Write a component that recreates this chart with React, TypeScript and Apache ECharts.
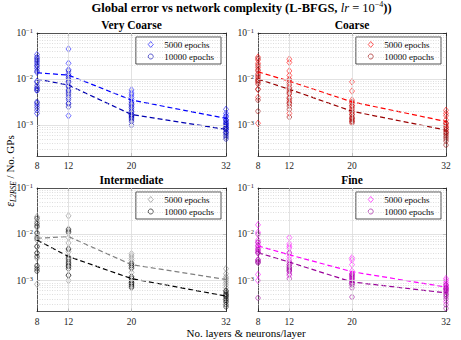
import React, { useEffect, useRef } from 'react';
import * as echarts from 'echarts';

// ---------- data ----------
const layerCounts = [8, 12, 20, 32];
const yTickExps = [-3, -2, -1];
const yMinLog = -3.67;
const yMaxLog = -1;

// Very Coarse (values per layer count 8, 12, 20, 32)
const vc5000 = [
  [0.034, 0.028, 0.024, 0.020, 0.017, 0.014, 0.0090, 0.0065, 0.0058, 0.0030, 0.0024, 0.0018],
  [0.045, 0.022, 0.016, 0.013, 0.011, 0.0090, 0.0072, 0.0055, 0.0040, 0.0030, 0.0016],
  [0.0058, 0.0050, 0.0045, 0.0040, 0.0036, 0.0032, 0.0028, 0.0024, 0.0020, 0.0017, 0.0015],
  [0.0022, 0.0018, 0.0016, 0.0015, 0.0013, 0.0012, 0.0011, 0.0010, 0.0009, 0.0008, 0.0007],
];
const vc10000 = [
  [0.030, 0.026, 0.022, 0.019, 0.015, 0.0085, 0.0072, 0.0062, 0.0056, 0.0032, 0.0027, 0.0021],
  [0.015, 0.012, 0.010, 0.0085, 0.0068, 0.0058, 0.0050, 0.0045, 0.0036, 0.0029, 0.0025],
  [0.0030, 0.0026, 0.0022, 0.0019, 0.0017, 0.0016, 0.0015, 0.0014, 0.0013, 0.0012, 0.0010],
  [0.0013, 0.0011, 0.0010, 0.0009, 0.00085, 0.0008, 0.0007, 0.00065, 0.0006, 0.00055, 0.0005],
];
const vc5000Trend = [0.0137, 0.0122, 0.0035, 0.0014];
const vc10000Trend = [0.0100, 0.0074, 0.0017, 0.00081];

// Coarse
const co5000 = [
  [0.030, 0.026, 0.022, 0.018, 0.015, 0.012, 0.010, 0.0085, 0.006, 0.004, 0.0011],
  [0.027, 0.023, 0.015, 0.012, 0.010, 0.0085, 0.0065, 0.0050, 0.0038, 0.0030, 0.0018],
  [0.0087, 0.0055, 0.0035, 0.0030, 0.0027, 0.0024, 0.0020, 0.0017, 0.0014, 0.0012],
  [0.0021, 0.0018, 0.0016, 0.0013, 0.0011, 0.0010, 0.0009, 0.0008, 0.0007],
];
const co10000 = [
  [0.028, 0.020, 0.016, 0.013, 0.011, 0.0095, 0.009, 0.0078, 0.006, 0.0035, 0.0020],
  [0.0095, 0.0075, 0.0062, 0.0055, 0.0048, 0.0040, 0.0034, 0.0030, 0.0026, 0.0022, 0.0015],
  [0.0032, 0.0026, 0.0022, 0.0019, 0.0017, 0.0015, 0.0014, 0.0013, 0.0012, 0.0011],
  [0.0011, 0.0009, 0.0008, 0.0007, 0.00065, 0.0006, 0.00055, 0.0005, 0.00045, 0.00037],
];
const co5000Trend = [0.0144, 0.0090, 0.0032, 0.0012];
const co10000Trend = [0.0100, 0.0060, 0.0020, 0.00078];

// Intermediate
const in5000 = [
  [0.024, 0.019, 0.014, 0.011, 0.0090, 0.0075, 0.0055, 0.0040, 0.0030, 0.0020, 0.00083],
  [0.025, 0.013, 0.0115, 0.0085, 0.0065, 0.0048, 0.0042, 0.0030, 0.0013, 0.0010],
  [0.0038, 0.0034, 0.0030, 0.0027, 0.0024, 0.0021, 0.0018, 0.0015, 0.0012, 0.0009],
  [0.0018, 0.0014, 0.0012, 0.0011, 0.0010, 0.0009, 0.0008, 0.0007, 0.0006, 0.0005],
];
const in10000 = [
  [0.022, 0.017, 0.015, 0.0105, 0.0082, 0.0054, 0.0039, 0.0033, 0.0021, 0.0018, 0.0016],
  [0.0125, 0.0110, 0.0048, 0.0032, 0.0028, 0.0025, 0.0023, 0.0021, 0.0020, 0.0018, 0.0013],
  [0.0023, 0.0021, 0.0019, 0.0012, 0.0011, 0.0010, 0.00092, 0.00085, 0.0008, 0.00075, 0.0007],
  [0.0006, 0.00055, 0.0005, 0.00047, 0.00044, 0.0004, 0.00037, 0.00034, 0.0003, 0.00027],
];
const in5000Trend = [0.0082, 0.0089, 0.0022, 0.00105];
const in10000Trend = [0.0075, 0.0033, 0.0011, 0.00046];

// Fine
const fi5000 = [
  [0.016, 0.011, 0.0075, 0.0065, 0.0058, 0.0050, 0.0045, 0.0040, 0.0028, 0.00135, 0.0010],
  [0.0085, 0.0062, 0.0055, 0.0050, 0.0038, 0.0033, 0.0028, 0.0022, 0.0016, 0.0013],
  [0.0031, 0.0028, 0.0022, 0.0016, 0.0014, 0.0013, 0.0012, 0.0011, 0.0010, 0.0009],
  [0.0011, 0.0010, 0.0009, 0.0008, 0.00075, 0.0007, 0.00065, 0.0006, 0.0005, 0.00035],
];
const fi10000 = [
  [0.0100, 0.0068, 0.0055, 0.0047, 0.0042, 0.0039, 0.0028, 0.0026, 0.0025, 0.0024, 0.00042],
  [0.0040, 0.0025, 0.0022, 0.0020, 0.0019, 0.0018, 0.0017, 0.0016, 0.0014, 0.0011],
  [0.0014, 0.0013, 0.0012, 0.0011, 0.0010, 0.0009, 0.00085, 0.0008, 0.0007, 0.00044],
  [0.0008, 0.0007, 0.00065, 0.0006, 0.00055, 0.0005, 0.00045, 0.0004, 0.0003, 0.00025, 0.00021],
];
const fi5000Trend = [0.0056, 0.0036, 0.00155, 0.00072];
const fi10000Trend = [0.0040, 0.0025, 0.00093, 0.00054];

const label5000 = '5000 epochs';
const label10000 = '10000 epochs';
const legendLabels: Record<string, string> = {};

// ---------- layout / style ----------
const W = 461;
const H = 340;
const FONT = '"Liberation Serif", serif';
const AXIS_COLOR = '#262626';

const panels = [
  { key: 'vc', title: 'Very Coarse', left: 37, top: 33, width: 189, height: 123, s5: vc5000, s10: vc10000, t5: vc5000Trend, t10: vc10000Trend, c5: '#0000ff', c10: '#0000b0' },
  { key: 'co', title: 'Coarse', left: 258, top: 33, width: 188, height: 123, s5: co5000, s10: co10000, t5: co5000Trend, t10: co10000Trend, c5: '#ff0000', c10: '#990000' },
  { key: 'in', title: 'Intermediate', left: 37, top: 188, width: 189, height: 123.5, s5: in5000, s10: in10000, t5: in5000Trend, t10: in10000Trend, c5: '#808080', c10: '#000000' },
  { key: 'fi', title: 'Fine', left: 258, top: 188, width: 188, height: 123.5, s5: fi5000, s10: fi10000, t5: fi5000Trend, t10: fi10000Trend, c5: '#ff00ff', c10: '#990099' },
];

function toPoints(groups: number[][]) {
  const out: number[][] = [];
  groups.forEach((vals, i) => vals.forEach((v) => out.push([layerCounts[i], Math.log10(v)])));
  return out;
}
function trendPoints(vals: number[]) {
  return vals.map((v, i) => [layerCounts[i], Math.log10(v)]);
}

function gridLineData() {
  const data: any[] = [];
  for (let n = -4; n <= -2; n++) {
    for (let k = 2; k <= 9; k++) {
      const v = Math.log10(k) + n;
      if (v > yMinLog && v < yMaxLog) {
        data.push({ yAxis: v, lineStyle: { color: '#c8c8c8', width: 0.6, type: [1, 1.5] } });
      }
    }
  }
  yTickExps.forEach((e) => {
    if (e > yMinLog && e < yMaxLog) data.push({ yAxis: e, lineStyle: { color: '#dadada', width: 0.8, type: 'solid' } });
  });
  layerCounts.slice(1, -1).forEach((x) => {
    data.push({ xAxis: x, lineStyle: { color: '#dadada', width: 0.8, type: 'solid' } });
  });
  return data;
}

const supRich = {
  b: { fontFamily: FONT, fontSize: 9.5, color: AXIS_COLOR, lineHeight: 12 },
  s: { fontFamily: FONT, fontSize: 6.5, color: AXIS_COLOR, lineHeight: 8, verticalAlign: 'top' },
};

function buildOption() {
  const grid: any[] = [];
  const xAxis: any[] = [];
  const yAxis: any[] = [];
  const series: any[] = [];
  const legend: any[] = [];
  const graphic: any[] = [];

  panels.forEach((p, i) => {
    grid.push({ left: p.left, top: p.top, width: p.width, height: p.height, containLabel: false });
    const n5 = p.key + '5000';
    const n10 = p.key + '10000';
    legendLabels[n5] = label5000;
    legendLabels[n10] = label10000;

    const axisLine = { show: true, lineStyle: { color: AXIS_COLOR, width: 0.8 } };
    const tick = (vals: number[]) => ({ show: true, inside: true, length: 3, customValues: vals, lineStyle: { color: AXIS_COLOR, width: 0.8 } });
    xAxis.push({
      type: 'value', gridIndex: i, min: layerCounts[0], max: layerCounts[layerCounts.length - 1],
      axisLine, splitLine: { show: false }, axisTick: tick(layerCounts),
      axisLabel: { show: true, customValues: layerCounts, margin: 5, fontFamily: FONT, fontSize: 9.5, color: AXIS_COLOR },
    });
    xAxis.push({
      type: 'value', gridIndex: i, position: 'top', min: layerCounts[0], max: layerCounts[layerCounts.length - 1],
      axisLine, splitLine: { show: false }, axisTick: tick(layerCounts), axisLabel: { show: false },
    });
    yAxis.push({
      type: 'value', gridIndex: i, min: yMinLog, max: yMaxLog,
      axisLine, splitLine: { show: false }, axisTick: tick(yTickExps),
      axisLabel: {
        show: true, customValues: yTickExps, margin: 4, fontFamily: FONT,
        formatter: (v: number) => `{b|10}{s|\u2212${Math.round(-v)}}`,
        rich: supRich,
      },
    });
    yAxis.push({
      type: 'value', gridIndex: i, position: 'right', min: yMinLog, max: yMaxLog,
      axisLine, splitLine: { show: false }, axisTick: tick(yTickExps), axisLabel: { show: false },
    });

    const xi = 2 * i;
    const yi = 2 * i;
    series.push({
      type: 'line', xAxisIndex: xi, yAxisIndex: yi, data: [[layerCounts[0], yMaxLog]], symbol: 'none',
      lineStyle: { opacity: 0 }, silent: true, z: 1,
      markLine: { silent: true, symbol: 'none', label: { show: false }, animation: false, data: gridLineData() },
    });
    series.push({
      name: n5, type: 'scatter', xAxisIndex: xi, yAxisIndex: yi, data: toPoints(p.s5),
      symbol: 'diamond', symbolSize: [5, 6.5], z: 3,
      itemStyle: { color: 'rgba(0,0,0,0)', borderColor: p.c5, borderWidth: 0.7 },
    });
    series.push({
      name: n10, type: 'scatter', xAxisIndex: xi, yAxisIndex: yi, data: toPoints(p.s10),
      symbol: 'circle', symbolSize: 4.5, z: 3,
      itemStyle: { color: 'rgba(0,0,0,0)', borderColor: p.c10, borderWidth: 0.7 },
    });
    series.push({
      type: 'line', xAxisIndex: xi, yAxisIndex: yi, data: trendPoints(p.t5), symbol: 'none', z: 4, silent: true,
      lineStyle: { color: p.c5, width: 1.2, type: [5, 3] },
    });
    series.push({
      type: 'line', xAxisIndex: xi, yAxisIndex: yi, data: trendPoints(p.t10), symbol: 'none', z: 4, silent: true,
      lineStyle: { color: p.c10, width: 1.2, type: [5, 3] },
    });

    legend.push({
      data: [
        { name: n5, icon: 'diamond', itemStyle: { color: 'rgba(0,0,0,0)', borderColor: p.c5, borderWidth: 0.8 } },
        { name: n10, icon: 'circle', itemStyle: { color: 'rgba(0,0,0,0)', borderColor: p.c10, borderWidth: 0.8 } },
      ],
      orient: 'vertical', right: W - (p.left + p.width) + 5, top: p.top + 4,
      backgroundColor: '#ffffff', borderColor: AXIS_COLOR, borderWidth: 0.8, borderRadius: 0,
      padding: [3, 7, 3, 12], itemGap: 3, itemWidth: 5, itemHeight: 6, selectedMode: false,
      formatter: (name: string) => legendLabels[name],
      textStyle: { fontFamily: FONT, fontSize: 9, color: '#000', padding: [0, 0, 0, 6] },
    });

    graphic.push({
      type: 'text', x: p.left + p.width / 2, y: p.top - 8,
      style: { text: p.title, align: 'center', verticalAlign: 'middle', fontFamily: FONT, fontSize: 11.5, fontWeight: 'bold', fill: '#000' },
    });
  });

  graphic.push({
    type: 'text', x: 241.5, y: 8,
    style: {
      text: '{b|Global error vs network complexity (L-BFGS, }{i|lr}{m| = 10}{s|\u22124}{b|))}',
      align: 'center', verticalAlign: 'middle',
      rich: {
        b: { fontFamily: FONT, fontSize: 12.5, fontWeight: 'bold', fill: '#000', lineHeight: 15 },
        i: { fontFamily: FONT, fontSize: 12.5, fontStyle: 'italic', fill: '#000', lineHeight: 15 },
        m: { fontFamily: FONT, fontSize: 12.5, fill: '#000', lineHeight: 15 },
        s: { fontFamily: FONT, fontSize: 8, fill: '#000', lineHeight: 9, verticalAlign: 'top' },
      },
    },
  });
  graphic.push({
    type: 'text', x: 246, y: 333,
    style: { text: 'No. layers & neurons/layer', align: 'center', verticalAlign: 'middle', fontFamily: FONT, fontSize: 11, fill: '#000' },
  });
  graphic.push({
    type: 'text', x: 10, y: 171, rotation: Math.PI / 2,
    style: {
      text: '{e|\u03b5}{sub|L2RSE}{n| / No. GPs}',
      align: 'center', verticalAlign: 'middle',
      rich: {
        e: { fontFamily: FONT, fontSize: 12, fontStyle: 'italic', fill: '#000', lineHeight: 14 },
        sub: { fontFamily: FONT, fontSize: 7.5, fontStyle: 'italic', fill: '#000', lineHeight: 9, verticalAlign: 'bottom' },
        n: { fontFamily: FONT, fontSize: 11, fill: '#000', lineHeight: 14 },
      },
    },
  });

  return {
    animation: false, backgroundColor: '#ffffff',
    textStyle: { fontFamily: FONT },
    grid, xAxis, yAxis, series, legend, graphic,
  };
}

export default function App() {
  const ref = useRef<HTMLDivElement>(null);
  useEffect(() => {
    if (!ref.current) return;
    const chart = echarts.init(ref.current, undefined, { renderer: 'svg', width: W, height: H });
    chart.setOption(buildOption() as any);
    return () => chart.dispose();
  }, []);
  return <div ref={ref} style={{ position: 'fixed', left: 0, top: 0, width: W, height: H, background: '#fff' }} />;
}
